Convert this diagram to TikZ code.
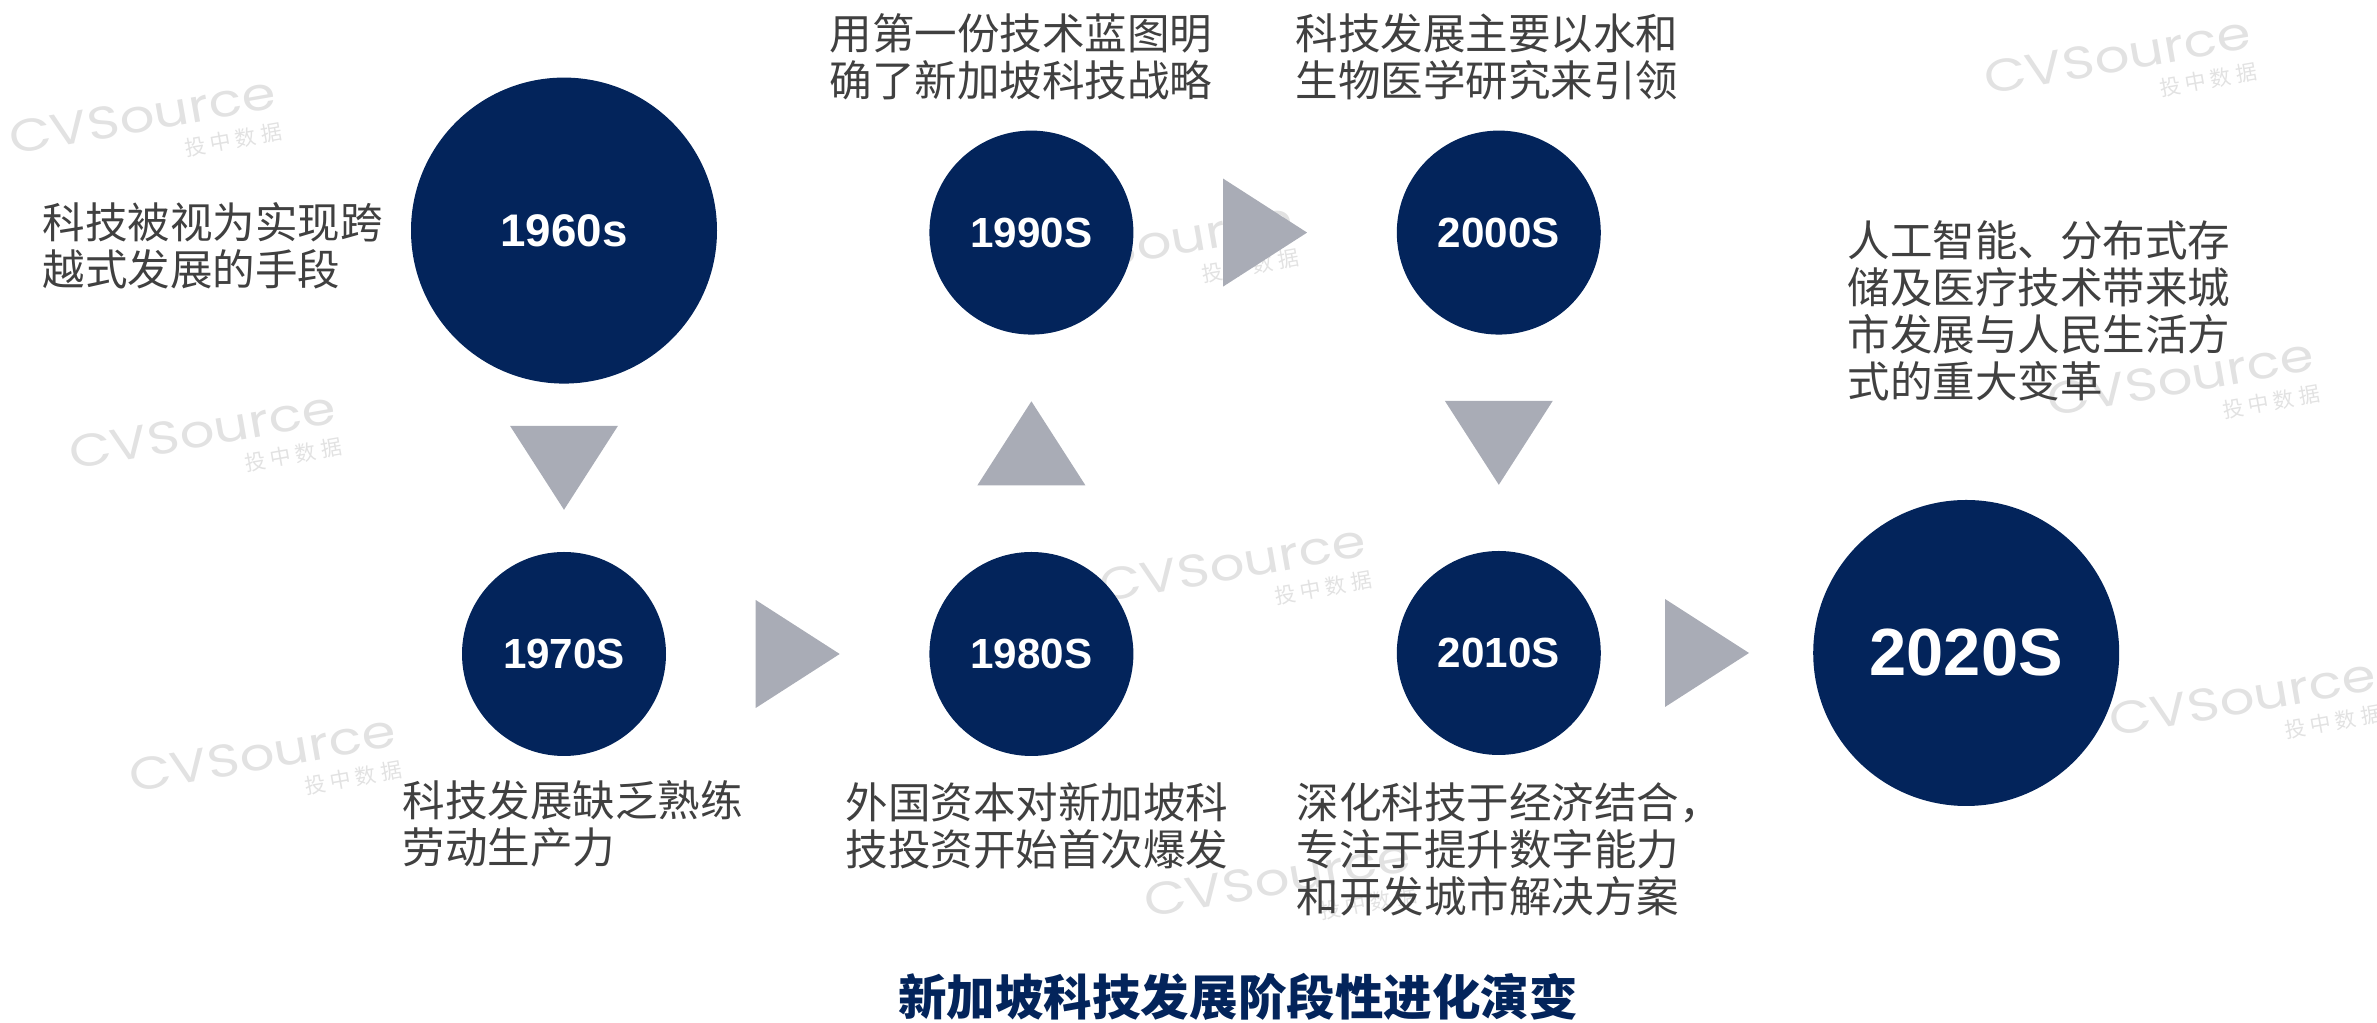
\documentclass[tikz,border=0pt]{standalone}
\usepackage{fontspec}
\setmainfont{Liberation Sans}
\newfontfamily\cjk{Noto Sans CJK SC}
\newfontfamily\wmfont[FakeStretch=1.2]{Poppins}
\usetikzlibrary{positioning,calc}

\definecolor{eranavy}{HTML}{03245B}
\definecolor{trigrey}{HTML}{A9ACB6}
\definecolor{notegrey}{HTML}{404040}
\definecolor{wmgrey}{HTML}{E2E2E2}

\begin{document}
\begin{tikzpicture}[
    era/.style={
        circle,
        fill=eranavy,
        text=white,
        minimum size=2.04cm,
        inner sep=0pt,
        font=\bfseries\fontsize{12}{14}\selectfont
    },
    bigera/.style={
        era,
        minimum size=3.06cm
    },
    note/.style={
        text=notegrey,
        align=left,
        inner sep=0pt,
        anchor=north west,
        font=\cjk\fontsize{12.1}{13.4}\selectfont
    },
    wmark/.style={
        text=wmgrey,
        rotate=10,
        align=right,
        inner sep=0pt,
        font=\wmfont\fontsize{13}{9}\selectfont
    },
    tri/.style={fill=trigrey}
]

\useasboundingbox (0,0) rectangle (23.77,-10.23);

% Watermarks in the back
\node [wmark] (wm1) at (1.45,-1.32) {CVSource\\{\cjk\fontsize{6}{6}\selectfont 投 中 数 据}};
\node [wmark] (wm2) at (2.05,-4.47) {CVSource\\{\cjk\fontsize{6}{6}\selectfont 投 中 数 据}};
\node [wmark] (wm3) at (2.65,-7.70) {CVSource\\{\cjk\fontsize{6}{6}\selectfont 投 中 数 据}};
\node [wmark] (wm4) at (11.62,-2.58) {CVSource\\{\cjk\fontsize{6}{6}\selectfont 投 中 数 据}};
\node [wmark] (wm5) at (12.35,-5.80) {CVSource\\{\cjk\fontsize{6}{6}\selectfont 投 中 数 据}};
\node [wmark] (wm6) at (12.80,-8.95) {CVSource\\{\cjk\fontsize{6}{6}\selectfont 投 中 数 据}};
\node [wmark] (wm7) at (21.20,-0.72) {CVSource\\{\cjk\fontsize{6}{6}\selectfont 投 中 数 据}};
\node [wmark] (wm8) at (21.83,-3.94) {CVSource\\{\cjk\fontsize{6}{6}\selectfont 投 中 数 据}};
\node [wmark] (wm9) at (22.45,-7.14) {CVSource\\{\cjk\fontsize{6}{6}\selectfont 投 中 数 据}};

% Eras
\node [era] (c70) at (5.64,-6.54) {1970S};
\node [era, right=2.62cm of c70] (c80) {1980S};
\node [era, above=2.16cm of c80] (c90) {1990S};
\node [era, right=2.62cm of c90] (c00) {2000S};
\node [era, below=2.15cm of c00] (c10) {2010S};
\node [bigera, right=2.11cm of c10, font=\bfseries\fontsize{19}{22}\selectfont] (c20) {2020S};
\node [bigera, above=1.67cm of c70, font=\bfseries\fontsize{13}{15}\selectfont] (c60) {1960s};

% Triangles between the eras
\fill [tri] ($(c60.south)!.5!(c70.north)$) +(-0.54,0.42) -- +(0.54,0.42) -- +(0,-0.42) -- cycle;
\fill [tri] ($(c70.east)!.5!(c80.west)$) +(-0.42,0.54) -- +(0.42,0) -- +(-0.42,-0.54) -- cycle;
\fill [tri] ($(c80.north)!.5!(c90.south)$) +(-0.54,-0.42) -- +(0.54,-0.42) -- +(0,0.42) -- cycle;
\fill [tri] ($(c90.east)!.5!(c00.west)$) +(-0.42,0.54) -- +(0.42,0) -- +(-0.42,-0.54) -- cycle;
\fill [tri] ($(c00.south)!.5!(c10.north)$) +(-0.54,0.42) -- +(0.54,0.42) -- +(0,-0.42) -- cycle;
\fill [tri] ($(c10.east)!.5!(c20.west)$) +(-0.42,0.54) -- +(0.42,0) -- +(-0.42,-0.54) -- cycle;

% Notes
\node [note] (t60) at (0.42,-2.02) {科技被视为实现跨\\越式发展的手段};
\node [note] (t90) at (8.29,-0.13) {用第一份技术蓝图明\\确了新加坡科技战略};
\node [note] (t00) at (12.95,-0.13) {科技发展主要以水和\\生物医学研究来引领};
\node [note] (t20) at (18.47,-2.20) {人工智能、分布式存\\储及医疗技术带来城\\市发展与人民生活方\\式的重大变革};
\node [note] (t70) at (4.02,-7.80) {科技发展缺乏熟练\\劳动生产力};
\node [note] (t80) at (8.45,-7.82) {外国资本对新加坡科\\技投资开始首次爆发};
\node [note] (t10) at (12.96,-7.82) {深化科技于经济结合，\\专注于提升数字能力\\和开发城市解决方案};

% Title
\node [text=eranavy, font=\cjk\bfseries\fontsize{13.8}{16}\selectfont] (title) at (12.38,-9.97) {新加坡科技发展阶段性进化演变};

\end{tikzpicture}
\end{document}
